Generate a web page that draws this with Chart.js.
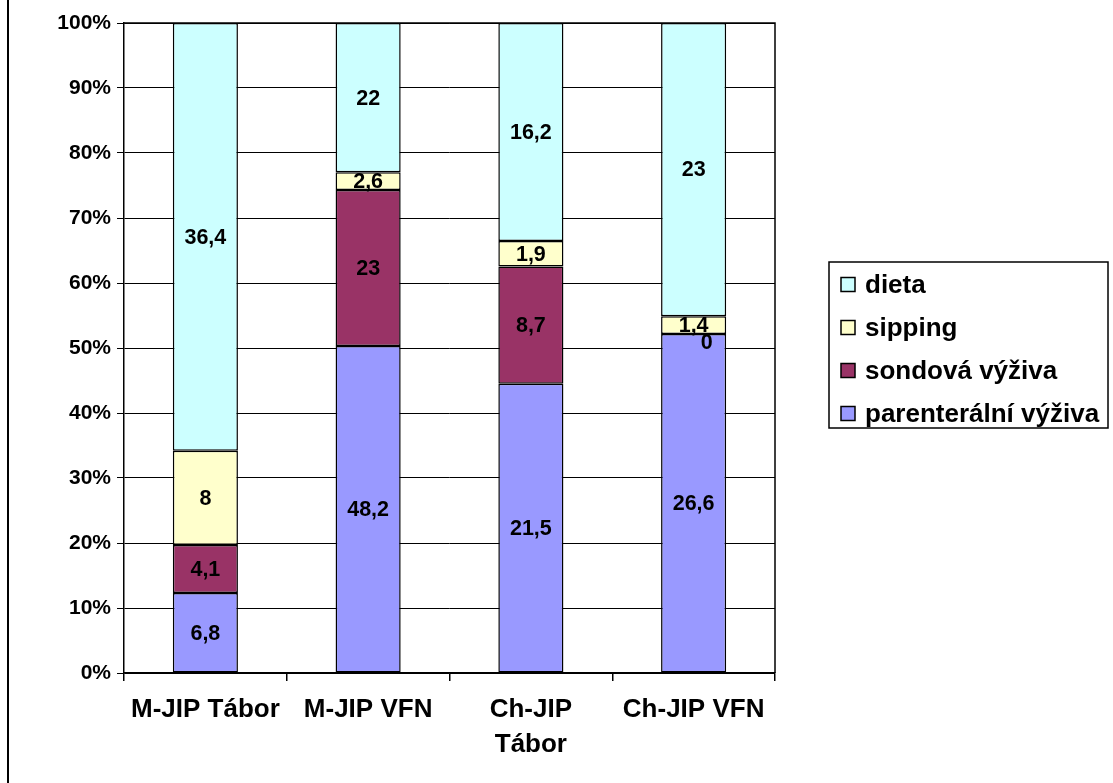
<!DOCTYPE html>
<html>
<head>
<meta charset="utf-8">
<script src="https://cdn.jsdelivr.net/npm/chart.js@4/dist/chart.umd.min.js"></script>
<style>
  html, body { margin: 0; padding: 0; background: #fff; }
  #wrap { width: 1113px; height: 783px; position: relative; }
</style>
</head>
<body>
<div id="wrap"><canvas id="c" width="1113" height="783"></canvas></div>
<script>
// Units (categories) and the raw values of each kind of nutrition
const categories = [['M-JIP Tábor'], ['M-JIP VFN'], ['Ch-JIP', 'Tábor'], ['Ch-JIP VFN']];
const seriesNames = ['parenterální výživa', 'sondová výživa', 'sipping', 'dieta'];
const parenteralni = [6.8, 48.2, 21.5, 26.6];
const sondova = [4.1, 23, 8.7, 0];
const sipping = [8, 2.6, 1.9, 1.4];
const dieta = [36.4, 22, 16.2, 23];
const yTickValues = [0, 10, 20, 30, 40, 50, 60, 70, 80, 90, 100];

const seriesValues = [parenteralni, sondova, sipping, dieta];
const seriesColors = ['#9999FF', '#993366', '#FFFFCC', '#CCFFFF'];

// 100 % stacked: each column is normalised to its own total
const totals = categories.map((_, i) => seriesValues.reduce((s, arr) => s + arr[i], 0));
const toPercent = arr => arr.map((v, i) => v / totals[i] * 100);

const FONT = '"Liberation Sans", Arial, sans-serif';

const datasets = seriesNames.map((name, k) => ({
  label: name,
  data: toPercent(seriesValues[k]),
  raw: seriesValues[k],
  backgroundColor: seriesColors[k],
  borderColor: '#000',
  borderWidth: 1.5,
  borderSkipped: false,
  barPercentage: 0.4,
  categoryPercentage: 1.0
}));

const fmt = v => String(v).replace('.', ',');

// Value labels in the middle of each segment
const valueLabels = {
  id: 'valueLabels',
  afterDatasetsDraw(chart) {
    const ctx = chart.ctx;
    ctx.save();
    ctx.font = 'bold 21.5px ' + FONT;
    ctx.fillStyle = '#000';
    ctx.textAlign = 'center';
    ctx.textBaseline = 'middle';
    chart.data.datasets.forEach((ds, di) => {
      const meta = chart.getDatasetMeta(di);
      meta.data.forEach((el, i) => {
        const v = ds.raw[i];
        let x = el.x;
        let y = (el.y + el.base) / 2 + 1;
        if (v === 0) { x += 13; y += 8; }
        ctx.fillText(fmt(v), x, y);
      });
    });
    ctx.restore();
  }
};

// Plot-area frame, outer left rule and the boxed legend
const frame = {
  id: 'frame',
  afterDraw(chart) {
    const ctx = chart.ctx;
    const a = chart.chartArea;
    ctx.save();
    ctx.strokeStyle = '#000';
    ctx.lineWidth = 1.5;
    ctx.beginPath();
    ctx.moveTo(a.left, a.top);
    ctx.lineTo(a.right, a.top);
    ctx.lineTo(a.right, a.bottom);
    ctx.stroke();

    ctx.lineWidth = 2;
    ctx.beginPath();
    ctx.moveTo(8, 0);
    ctx.lineTo(8, chart.height);
    ctx.stroke();

    // legend
    const lx = 829, ly = 262, lw = 279, lh = 166;
    ctx.lineWidth = 1.5;
    ctx.fillStyle = '#fff';
    ctx.fillRect(lx, ly, lw, lh);
    ctx.strokeRect(lx, ly, lw, lh);
    ctx.font = 'bold 26px ' + FONT;
    ctx.textAlign = 'left';
    ctx.textBaseline = 'middle';
    const order = [3, 2, 1, 0];
    order.forEach((k, j) => {
      const cy = ly + 23 + j * 43;
      ctx.fillStyle = seriesColors[k];
      ctx.fillRect(841, cy - 7.5, 14, 14);
      ctx.strokeStyle = '#000';
      ctx.lineWidth = 1.5;
      ctx.strokeRect(841, cy - 7.5, 14, 14);
      ctx.fillStyle = '#000';
      ctx.fillText(seriesNames[k], 865, cy + 1);
    });
    ctx.restore();
  }
};

new Chart(document.getElementById('c'), {
  type: 'bar',
  data: { labels: categories, datasets },
  options: {
    responsive: false,
    animation: false,
    devicePixelRatio: 1,
    layout: { padding: { left: 0, right: 338, top: 23, bottom: 0 } },
    plugins: { legend: { display: false }, tooltip: { enabled: false } },
    scales: {
      x: {
        stacked: true,
        grid: { drawOnChartArea: false, offset: true, tickLength: 8, color: '#000', lineWidth: 1.5 },
        border: { color: '#000', width: 1.5 },
        ticks: { color: '#000', padding: 11, maxRotation: 0, autoSkip: false,
                 font: { family: FONT, size: 26, weight: 'bold', lineHeight: 1.35 } },
        afterFit(scale) { scale.height = 110; }
      },
      y: {
        stacked: true,
        min: 0, max: 100,
        afterBuildTicks(scale) { scale.ticks = yTickValues.map(v => ({ value: v })); },
        grid: { color: '#000', lineWidth: 1, tickLength: 7 },
        border: { color: '#000', width: 1.5 },
        ticks: { color: '#000', padding: 6, callback: v => v + '%',
                 font: { family: FONT, size: 21, weight: 'bold' } },
        afterFit(scale) { scale.width = 124; }
      }
    }
  },
  plugins: [valueLabels, frame]
});
</script>
</body>
</html>
